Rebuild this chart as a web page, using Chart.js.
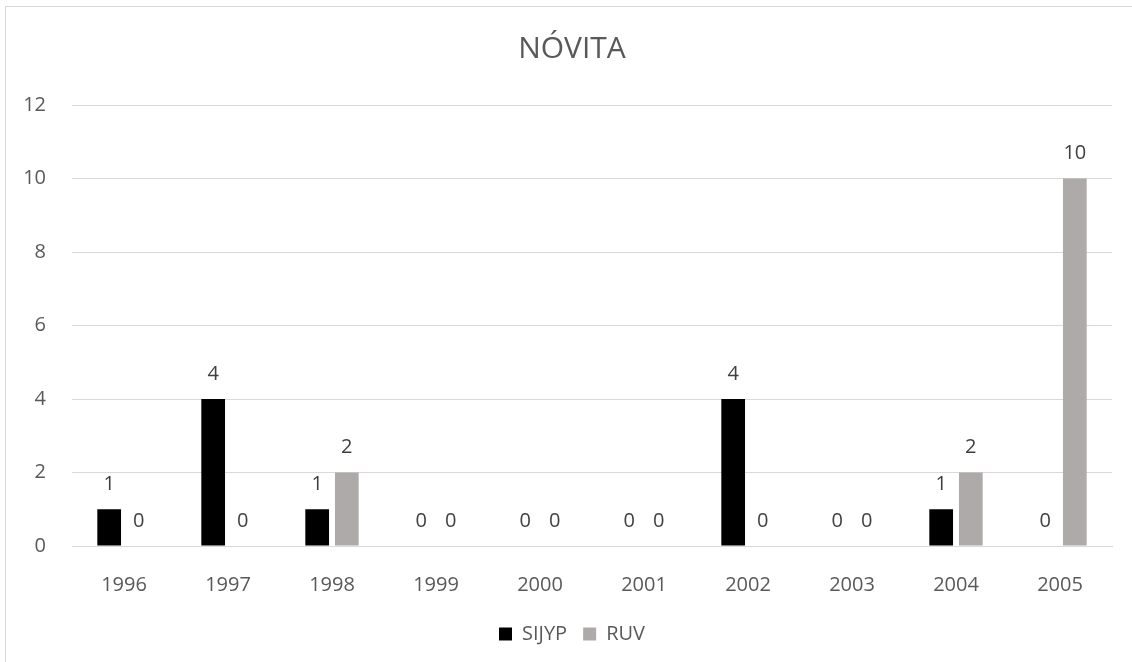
<!DOCTYPE html>
<html>
<head>
<meta charset="utf-8">
<script src="https://cdn.jsdelivr.net/npm/chart.js@4/dist/chart.umd.min.js"></script>
<style>
    body { margin: 0; background: #fff; overflow: hidden; }
    #frame {
        position: absolute; left: 5px; top: 6px;
        width: 1134px; height: 670px;
        border: 1px solid #d9d9d9; box-sizing: border-box;
    }
    #chart-box { position: absolute; left: 0; top: 0; width: 1132px; height: 663px; }
</style>
</head>
<body>
<div id="frame">
    <div id="chart-box"><canvas id="novita-chart"></canvas></div>
</div>
<script>
// Chart data
const years = ['1996', '1997', '1998', '1999', '2000', '2001', '2002', '2003', '2004', '2005'];
const sijyp = [1, 4, 1, 0, 0, 0, 4, 0, 1, 0];
const ruv = [0, 0, 2, 0, 0, 0, 0, 0, 2, 10];

const FONT = "'Open Sans', 'Noto Sans', sans-serif";
const TEXT_COLOR = '#595959';

// Draw the value above each bar
const valueLabels = {
    id: 'valueLabels',
    afterDatasetsDraw(chart) {
        const ctx = chart.ctx;
        ctx.save();
        ctx.font = `20px ${FONT}`;
        ctx.fillStyle = '#404040';
        ctx.textAlign = 'center';
        ctx.textBaseline = 'middle';
        chart.data.datasets.forEach((ds, i) => {
            chart.getDatasetMeta(i).data.forEach((bar, j) => {
                ctx.fillText(String(ds.data[j]), bar.x, bar.y - 25);
            });
        });
        ctx.restore();
    },
};

const ctx = document.getElementById('novita-chart').getContext('2d');
new Chart(ctx, {
    type: 'bar',
    data: {
        labels: years,
        datasets: [
            { label: 'SIJYP', data: sijyp, backgroundColor: '#000000' },
            { label: 'RUV', data: ruv, backgroundColor: '#aeaaaa' },
        ],
    },
    options: {
        responsive: true,
        maintainAspectRatio: false,
        animation: false,
        barPercentage: 0.8,
        categoryPercentage: 0.57,
        layout: { padding: { left: 0, right: 0, top: 0, bottom: 16 } },
        plugins: {
            title: {
                display: true,
                text: 'NÓVITA',
                color: TEXT_COLOR,
                font: { family: FONT, size: 30, weight: 'normal' },
                padding: { top: 24, bottom: 38 },
            },
            legend: {
                position: 'bottom',
                labels: {
                    color: TEXT_COLOR,
                    font: { family: FONT, size: 20 },
                    boxWidth: 13,
                    boxHeight: 13,
                    padding: 16,
                },
            },
            tooltip: { enabled: false },
        },
        scales: {
            x: {
                grid: { display: false, drawTicks: false },
                border: { color: '#d9d9d9' },
                ticks: { color: TEXT_COLOR, font: { family: FONT, size: 20 }, padding: 27 },
                afterFit: (scale) => { scale.height = 62; },
            },
            y: {
                min: 0,
                max: 12,
                grid: { color: '#d9d9d9', drawTicks: false },
                border: { display: false },
                ticks: { stepSize: 2, color: TEXT_COLOR, font: { family: FONT, size: 20 }, padding: 26 },
                afterFit: (scale) => { scale.width = 66; },
            },
            // empty right margin so the legend centres on the whole chart
            yRight: {
                position: 'right',
                grid: { display: false, drawTicks: false },
                border: { display: false },
                ticks: { display: false },
                afterFit: (scale) => { scale.width = 26; },
            },
        },
    },
    plugins: [valueLabels],
});
</script>
</body>
</html>
